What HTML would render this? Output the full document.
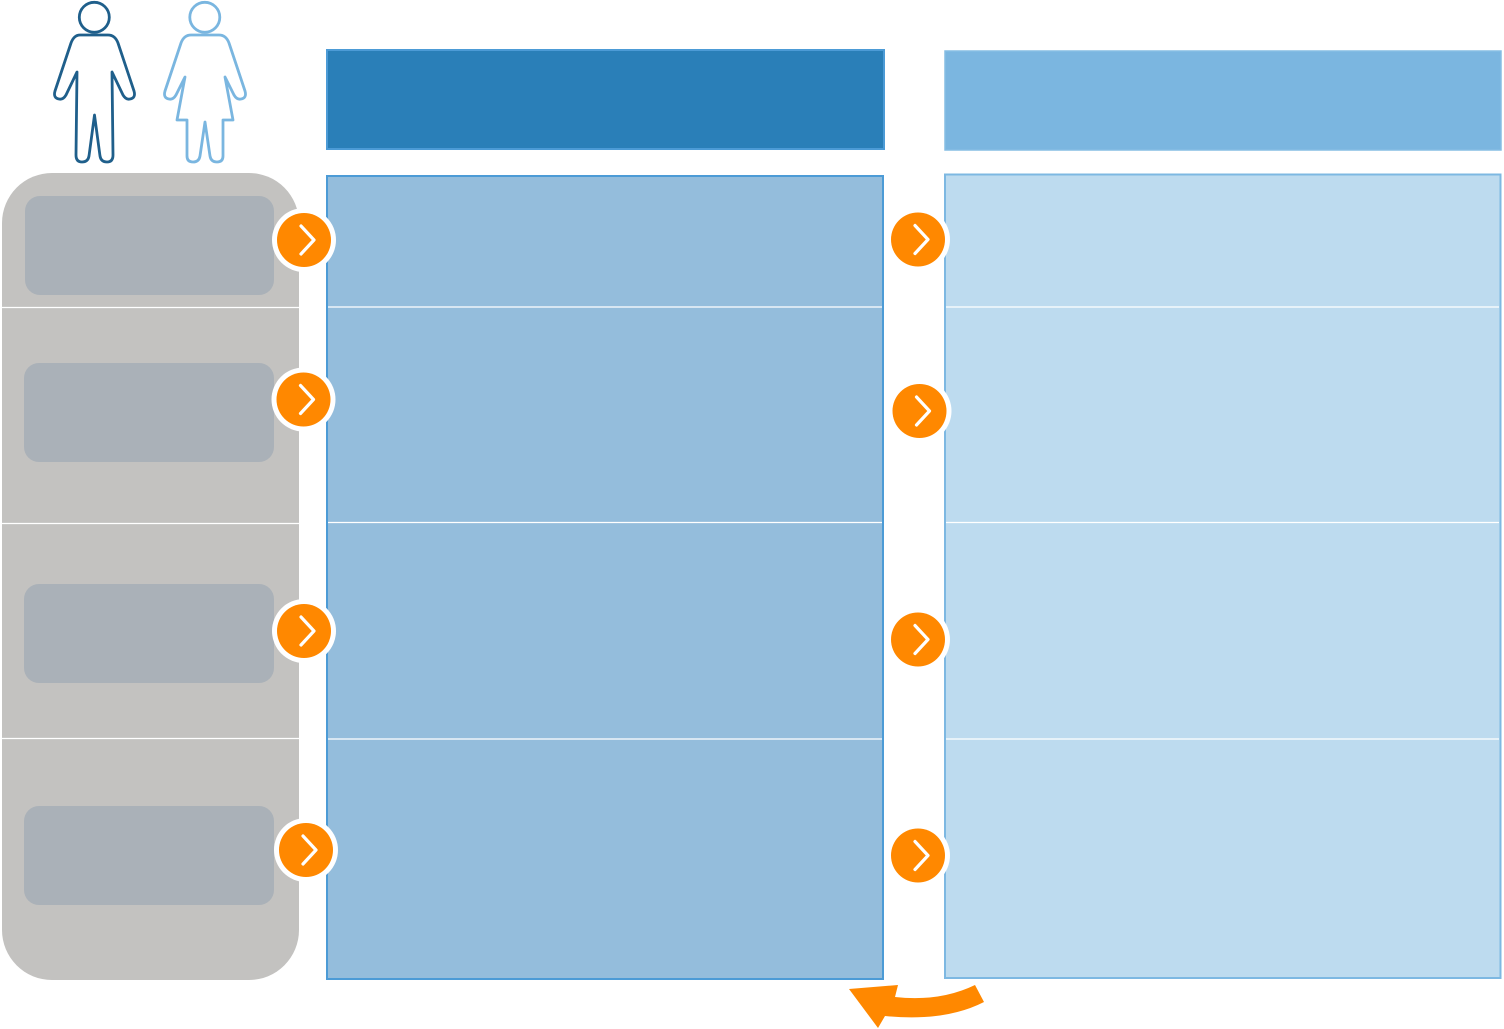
<!DOCTYPE html>
<html>
<head>
<meta charset="utf-8">
<style>
html,body{margin:0;padding:0;background:#fff;}
body{width:1504px;height:1029px;overflow:hidden;position:relative;font-family:"Liberation Sans",sans-serif;}
svg{position:absolute;left:0;top:0;}
</style>
</head>
<body>
<svg width="1504" height="1029" viewBox="0 0 1504 1029" xmlns="http://www.w3.org/2000/svg">
  <defs>
    <g id="chev">
      <circle r="32" fill="#ffffff"/>
      <circle r="27" fill="#ff8800"/>
      <polyline points="-3,-14 10,0 -3,14" fill="none" stroke="#ffffff" stroke-width="3.2" stroke-linecap="round" stroke-linejoin="round"/>
    </g>
    <g id="chevNoRing">
      <circle r="27" fill="#ff8800"/>
      <polyline points="-3,-14 10,0 -3,14" fill="none" stroke="#ffffff" stroke-width="3.2" stroke-linecap="round" stroke-linejoin="round"/>
    </g>
  </defs>

  <!-- Figures -->
  <g fill="none" stroke="#1f5f8b" stroke-width="2.8" stroke-linejoin="round" stroke-linecap="round">
    <circle cx="94.3" cy="17.3" r="15"/>
    <path d="M80,35 L108,35 Q115,35 118,43 L134,91 Q136,98 130,99 Q126,100 123,95 L112,72 L113,155 Q113,162 107,162 Q101,162 100,156 L94.5,115 L89,156 Q88,162 82,162 Q76,162 76,155 L77,72 L66,95 Q63,100 59,99 Q53,98 55,91 L71,43 Q74,35 80,35 Z"/>
  </g>
  <g fill="none" stroke="#7ab6e0" stroke-width="2.8" stroke-linejoin="round" stroke-linecap="round">
    <circle cx="204.8" cy="17.3" r="15"/>
    <path d="M191,35 L219,35 Q226,35 229,43 L245,91 Q247,98 241,99 Q237,100 234,95 L225,77 L233,120 L223,120 L223,156 Q223,162 217,162 Q211,162 210,156 L205,122 L200,156 Q199,162 193,162 Q187,162 187,156 L187,120 L177,120 L185,77 L176,95 Q173,100 169,99 Q163,98 165,91 L181,43 Q184,35 191,35 Z"/>
  </g>

  <!-- Left gray panel -->
  <rect x="2" y="173" width="297" height="807" rx="50" ry="50" fill="#c3c2c0"/>
  <line x1="2" y1="307.5" x2="299" y2="307.5" stroke="#ffffff" stroke-width="1.2"/>
  <line x1="2" y1="523.5" x2="299" y2="523.5" stroke="#ffffff" stroke-width="1.2"/>
  <line x1="2" y1="738.5" x2="299" y2="738.5" stroke="#ffffff" stroke-width="1.2"/>
  <rect x="25" y="196" width="249" height="99" rx="15" fill="#aab1b8"/>
  <rect x="24" y="363" width="250" height="99" rx="15" fill="#aab1b8"/>
  <rect x="24" y="584" width="250" height="99" rx="15" fill="#aab1b8"/>
  <rect x="24" y="806" width="250" height="99" rx="15" fill="#aab1b8"/>

  <!-- Middle header -->
  <rect x="327" y="50" width="557" height="99" fill="#2a7fb8" stroke="#4c9bd6" stroke-width="2"/>
  <!-- Middle panel -->
  <rect x="327" y="176" width="556" height="803" fill="#94bddc" stroke="#4c9bd6" stroke-width="2"/>
  <line x1="328" y1="307" x2="882" y2="307" stroke="#ffffff" stroke-width="1.2"/>
  <line x1="328" y1="522.5" x2="882" y2="522.5" stroke="#ffffff" stroke-width="1.2"/>
  <line x1="328" y1="739" x2="882" y2="739" stroke="#ffffff" stroke-width="1.2"/>

  <!-- Right header -->
  <rect x="945" y="51" width="556" height="99" fill="#7bb6e0" stroke="#86bde4" stroke-width="1.5"/>
  <!-- Right panel -->
  <rect x="945" y="174.5" width="555.5" height="803.5" fill="#bddbef" stroke="#7db8e2" stroke-width="2"/>
  <line x1="946" y1="307" x2="1499" y2="307" stroke="#ffffff" stroke-width="1.2"/>
  <line x1="946" y1="522.5" x2="1499" y2="522.5" stroke="#ffffff" stroke-width="1.2"/>
  <line x1="946" y1="739" x2="1499" y2="739" stroke="#ffffff" stroke-width="1.2"/>

  <!-- Left column chevrons -->
  <use href="#chev" x="304" y="240"/>
  <use href="#chev" x="303.5" y="399.5"/>
  <use href="#chev" x="304" y="631"/>
  <use href="#chev" x="306" y="850"/>

  <!-- Middle gap chevrons -->
  <use href="#chev" x="918" y="239.5"/>
  <use href="#chev" x="919.5" y="411"/>
  <use href="#chev" x="918" y="639.5"/>
  <use href="#chev" x="918" y="855.5"/>

  <!-- Curved bottom arrow -->
  <path d="M975,985 Q940,1002 895,997 L898,985 L849,989 L878,1028 L885,1016 Q945,1022 984,1002 Z" fill="#ff8800"/>
</svg>
</body>
</html>
